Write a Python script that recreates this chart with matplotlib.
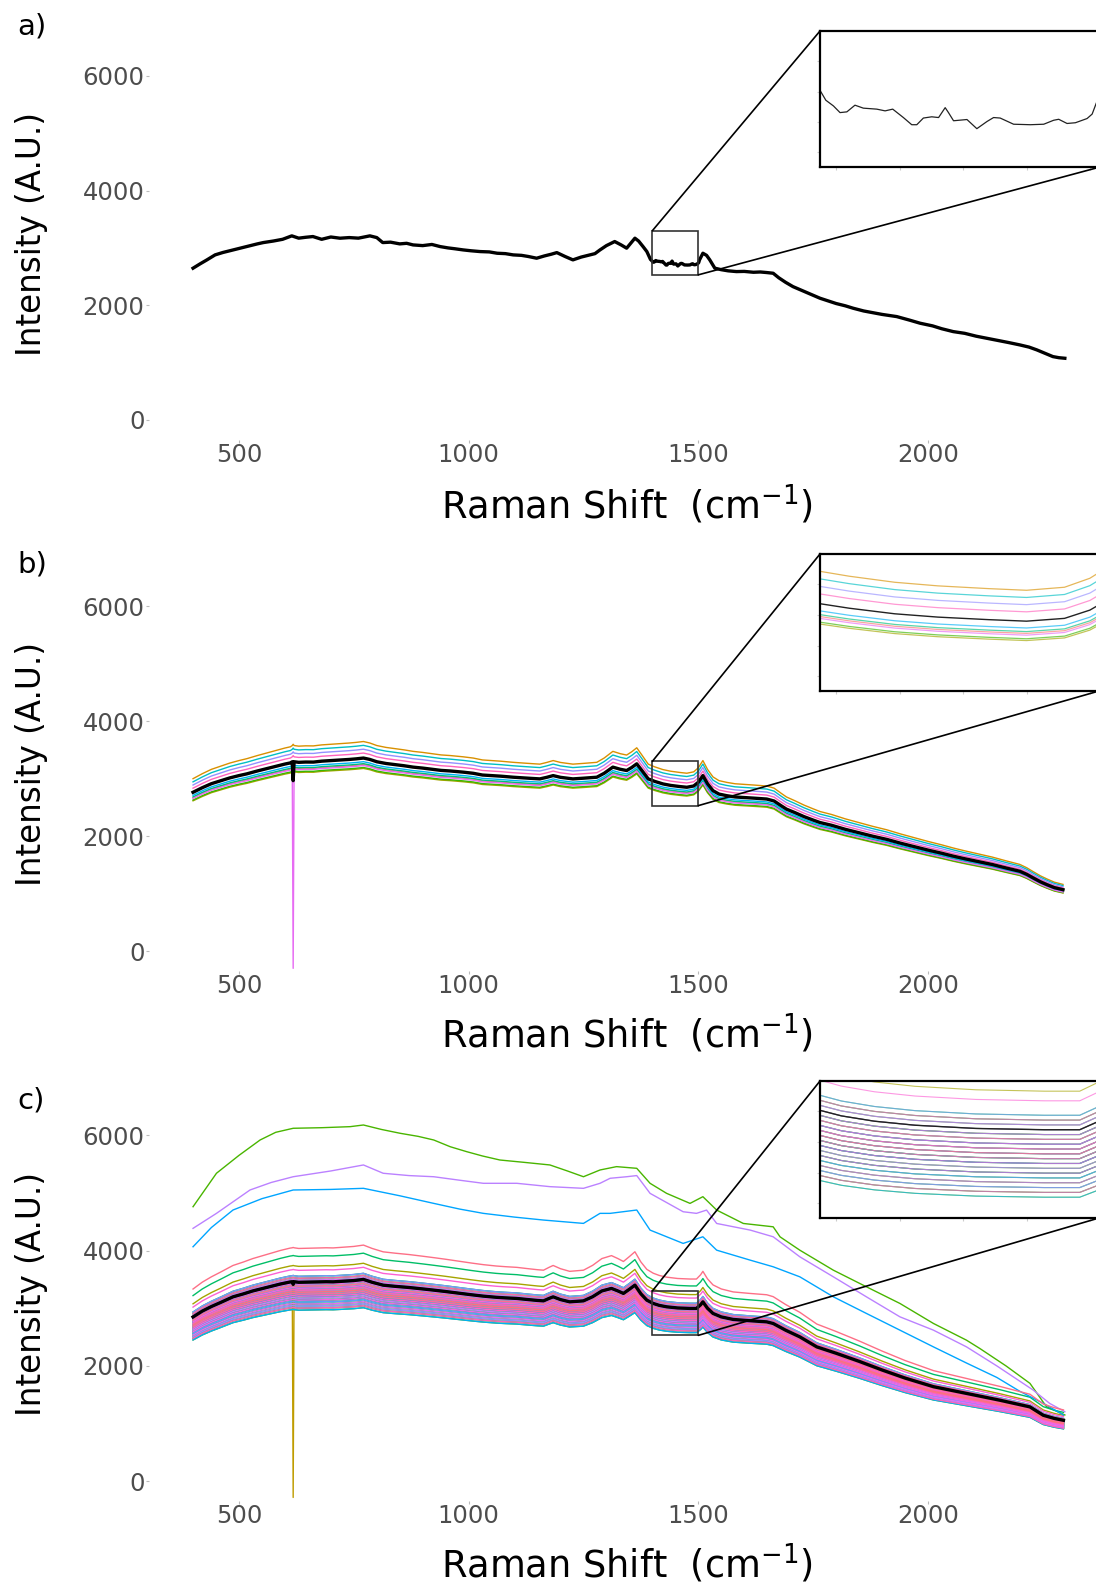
import numpy as np
import matplotlib

matplotlib.use("Agg")
import matplotlib.pyplot as plt
from matplotlib.patches import Rectangle, ConnectionPatch

# ---------------------- data ----------------------

# a) single spectrum
a_x = [400, 415, 430, 448, 465, 480, 502, 520, 540, 553, 575, 595, 615, 630, 645,
       661, 680, 700, 720, 740, 760, 785, 800, 813, 830, 850, 865, 879, 900, 920,
       938, 955, 970, 988, 1005, 1025, 1045, 1062, 1080, 1097, 1115, 1130, 1148,
       1165, 1180, 1192, 1210, 1227, 1245, 1264, 1275, 1286, 1300, 1318, 1332,
       1344, 1355, 1362, 1370, 1380, 1388,
       1395.8, 1398.8, 1401.4, 1404.1, 1407.3, 1410.6, 1415.9, 1419.2, 1422.2,
       1426.4, 1429.7, 1431.7, 1434.3, 1437.6, 1440.3, 1442.9, 1444.2, 1446.2,
       1451.5, 1455.4, 1459.4, 1462.0, 1464.6, 1469.9, 1476.5, 1481.8, 1485.7,
       1487.7, 1491.0, 1494.3, 1498.9, 1500.9, 1502.6,
       1510, 1518, 1525, 1536, 1550, 1565, 1583, 1600, 1620, 1635, 1649, 1663,
       1675, 1690, 1706, 1725, 1745, 1765, 1785, 1800, 1820, 1837, 1860, 1880,
       1900, 1932, 1960, 1983, 2010, 2030, 2055, 2080, 2105, 2128, 2150, 2175,
       2200, 2220, 2237, 2255, 2272, 2285, 2298]
a_y = [2646, 2720, 2790, 2878, 2920, 2950, 2995, 3030, 3070, 3093, 3120, 3150, 3210,
       3170, 3185, 3198, 3150, 3190, 3169, 3180, 3170, 3210, 3180, 3093, 3100, 3070,
       3080, 3052, 3040, 3060, 3023, 3000, 2985, 2965, 2950, 2936, 2930, 2907, 2900,
       2878, 2870, 2850, 2820, 2860, 2890, 2918, 2850, 2791, 2840, 2878, 2900, 2965,
       3040, 3111, 3052, 2995, 3100, 3169, 3120, 3020, 2936,
       2800, 2777, 2750, 2753, 2780, 2768, 2764, 2757, 2764, 2730, 2701, 2701, 2728,
       2733, 2730, 2770, 2750, 2717, 2722, 2685, 2714, 2730, 2728, 2703, 2701, 2703,
       2719, 2723, 2706, 2709, 2726, 2744, 2790,
       2907, 2870, 2791, 2646, 2620, 2600, 2587, 2590, 2575, 2580, 2570, 2558, 2480,
       2400, 2325, 2260, 2190, 2122, 2070, 2030, 1990, 1948, 1900, 1870, 1840, 1802,
       1740, 1686, 1640, 1590, 1540, 1510, 1460, 1424, 1390, 1350, 1308, 1270, 1221,
       1160, 1104, 1085, 1075]

# b) 10 spectra: common shape + level of each spectrum relative to it
b_x = [400, 420, 440, 460, 480, 500, 517, 540, 560, 580, 600, 612, 616, 618, 620,
       630, 645, 662, 680, 700, 720, 740, 755, 771, 785, 800, 820, 840, 860, 879,
       900, 920, 940, 960, 988, 1010, 1030, 1050, 1070, 1097, 1120, 1140, 1155,
       1170, 1184, 1200, 1227, 1250, 1279, 1295, 1314, 1330, 1344, 1355, 1366,
       1378, 1391, 1405, 1423, 1440, 1460, 1475, 1490, 1500, 1510, 1520, 1532,
       1545, 1562, 1580, 1600, 1620, 1649, 1665, 1680, 1692, 1710, 1730, 1750,
       1765, 1790, 1820, 1850, 1880, 1910, 1940, 1970, 2000, 2030, 2055, 2080,
       2110, 2140, 2170, 2200, 2215, 2229, 2245, 2259, 2275, 2294]
b_base = [2751, 2830, 2900, 2950, 3000, 3040, 3070, 3120, 3160, 3200, 3240, 3260,
          3280, 3300, 3280, 3270, 3275, 3274, 3290, 3300, 3310, 3320, 3330, 3344,
          3320, 3280, 3250, 3230, 3210, 3187, 3170, 3150, 3130, 3120, 3100, 3080,
          3050, 3040, 3030, 3012, 3000, 2990, 2983, 3010, 3040, 3010, 2983, 2995,
          3012, 3080, 3187, 3150, 3128, 3180, 3244, 3120, 2983, 2940, 2896, 2870,
          2850, 2838, 2860, 2925, 3040, 2900, 2779, 2720, 2692, 2670, 2660, 2650,
          2634, 2600, 2520, 2459, 2400, 2330, 2270, 2227, 2180, 2110, 2050, 1990,
          1936, 1870, 1810, 1750, 1695, 1645, 1600, 1550, 1500, 1440, 1383, 1330,
          1268, 1200, 1151, 1100, 1064]
b_levels = [0.97, 1.09, 0.95, 0.955, 0.975, 1.07, 0.985, 1.05, 0.965, 1.03]
b_spike_idx = 8       # spectrum with the dead pixel
b_spike_val = -300
spike_x = 618

# c) 72 spectra: common shape, levels, three spectra read separately
c_x = [400, 420, 440, 460, 487, 510, 530, 560, 590, 611, 616, 618, 620, 630, 660,
       690, 705, 730, 750, 771, 790, 814, 840, 870, 900, 924, 950, 980, 1005, 1032,
       1060, 1080, 1105, 1130, 1150, 1163, 1175, 1184, 1200, 1220, 1250, 1270,
       1290, 1311, 1325, 1337, 1350, 1362, 1375, 1388, 1402, 1415, 1431, 1455,
       1482, 1496, 1505, 1510, 1520, 1532, 1550, 1576, 1610, 1649, 1663, 1690,
       1721, 1758, 1800, 1850, 1900, 1950, 2012, 2080, 2157, 2222, 2251, 2275, 2295]
c_base = [2849, 2950, 3030, 3100, 3198, 3250, 3300, 3360, 3420, 3455, 3460, 3465,
          3460, 3450, 3455, 3460, 3458, 3470, 3480, 3500, 3450, 3400, 3380, 3360,
          3335, 3314, 3290, 3260, 3235, 3210, 3190, 3180, 3170, 3150, 3135, 3128,
          3170, 3198, 3150, 3111, 3128, 3200, 3300, 3344, 3300, 3257, 3330, 3401,
          3250, 3140, 3083, 3050, 3025, 3005, 2997, 2997, 3060, 3111, 3000, 2910,
          2850, 2806, 2785, 2764, 2736, 2620, 2504, 2330, 2220, 2080, 1930, 1790,
          1640, 1530, 1405, 1290, 1145, 1090, 1058]
c_levels = [0.93, 0.97, 0.89, 1.01, 0.95, 0.91, 0.99, 0.87, 0.96, 1.02,
            0.92, 0.98, 0.94, 0.88, 1.08, 0.97, 0.90, 1.00, 0.93, 0.86,
            0.96, np.nan, 0.99, 0.91, 0.94, 1.03, 0.89, 1.13, 0.95, 0.92,
            0.98, 0.87, 1.01, 0.94, 0.90, 0.97, 0.93, 1.02, 0.88, 0.96,
            0.99, 0.91, 0.95, 0.86, 1.00, 0.93, np.nan, 0.97, 0.90, 1.03,
            0.94, 0.88, 0.98, np.nan, 0.92, 0.96, 1.01, 0.89, 0.95, 0.99,
            0.91, 0.97, 1.06, 0.93, 1.00, 0.87, 0.96, 1.02, 0.94, 0.98,
            1.17, 0.95]
c_spike_idx = 11
c_spike_val = -280

green_x = [400, 451, 500, 546, 580, 618, 680, 742, 771, 810, 851, 890, 924, 960, 996,
           1030, 1068, 1120, 1177, 1215, 1250, 1286, 1322, 1366, 1395, 1431, 1482,
           1510, 1540, 1598, 1663, 1678, 1721, 1794, 1866, 1939, 2012, 2084, 2113,
           2170, 2222, 2258, 2298]
green_y = [4760, 5340, 5650, 5917, 6050, 6120, 6130, 6148, 6177, 6100, 6033, 5980,
           5917, 5800, 5714, 5640, 5570, 5530, 5484, 5380, 5280, 5397, 5455, 5426,
           5166, 4992, 4818, 4934, 4702, 4470, 4412, 4238, 4007, 3660, 3372, 3083,
           2736, 2446, 2302, 2000, 1698, 1293, 1150]
purple_x = [400, 451, 524, 570, 618, 700, 771, 814, 870, 924, 980, 1032, 1105, 1177,
            1250, 1286, 1308, 1344, 1366, 1395, 1467, 1496, 1518, 1540, 1613, 1663,
            1721, 1794, 1866, 1939, 2012, 2084, 2150, 2229, 2265, 2298]
purple_y = [4385, 4645, 5050, 5180, 5280, 5380, 5484, 5340, 5300, 5280, 5220, 5166,
            5166, 5108, 5079, 5166, 5253, 5280, 5300, 4992, 4673, 4645, 4702, 4470,
            4355, 4239, 3892, 3545, 3198, 2851, 2620, 2330, 2000, 1582, 1350, 1206]
blue_x = [400, 440, 487, 550, 618, 700, 771, 850, 924, 980, 1032, 1100, 1163, 1250,
          1286, 1308, 1366, 1395, 1467, 1510, 1540, 1613, 1663, 1721, 1794, 1866,
          1939, 2012, 2084, 2150, 2200, 2251, 2295]
blue_y = [4066, 4400, 4703, 4900, 5050, 5060, 5079, 4950, 4818, 4720, 4645, 4580,
          4529, 4471, 4645, 4645, 4703, 4355, 4124, 4239, 4007, 3834, 3719, 3545,
          3198, 2910, 2620, 2330, 2050, 1800, 1560, 1352, 1150]
c_separate = {21: (green_x, green_y), 46: (blue_x, blue_y), 53: (purple_x, purple_y)}

y_ticks = [0, 2000, 4000, 6000]
x_ticks = [500, 1000, 1500, 2000]
zoom_x = (1400, 1500)
zoom_y = (2530, 3300)

# ---------------------- layout (pixels of the 1096x1586 canvas) ----------------------

W, H = 1096, 1586
X_LIM = (305, 2395)
Y_LIM = (-350, 6850)
AX_LEFT, AX_RIGHT = 149.4, 1109.4
INS_LEFT, INS_RIGHT = 820, 1100
INS_XLIM = (1393.5, 1504)

# per panel: pixel of y=0, pixel of y=6000, inset top/bottom, inset ylim, letter y, xlabel baseline
PANELS = {
    "a": dict(y0=419.9, y6=75.9, itop=31, ibot=167, iylim=(2530, 3080), ly=26, xl=518),
    "b": dict(y0=951.1, y6=606.1, itop=554, ibot=690.7, iylim=(2300, 3380), ly=564, xl=1047),
    "c": dict(y0=1481.3, y6=1135.2, itop=1081, ibot=1217.7, iylim=(2450, 3300), ly=1100, xl=1577),
}

TICK_GREY = "#4D4D4D"
plt.rcParams["font.family"] = ["DejaVu Sans"]


def hue_pal(n, c=100.0, l=65.0):
    """ggplot2-style evenly spaced HCL hues."""
    hues = np.deg2rad(np.linspace(15, 375, n + 1)[:-1])
    xn, yn, zn = 95.047, 100.0, 108.883
    un = 4 * xn / (xn + 15 * yn + 3 * zn)
    vn = 9 * yn / (xn + 15 * yn + 3 * zn)
    Y = yn * ((l + 16) / 116) ** 3
    cols = []
    for h in hues:
        up = c * np.cos(h) / (13 * l) + un
        vp = c * np.sin(h) / (13 * l) + vn
        X = 9 * Y * up / (4 * vp)
        Z = -X / 3 - 5 * Y + 3 * Y / vp
        rgb = np.array([
            3.240479 * X - 1.537150 * Y - 0.498535 * Z,
            -0.969256 * X + 1.875992 * Y + 0.041556 * Z,
            0.055648 * X - 0.204043 * Y + 1.057311 * Z,
        ]) / 100
        rgb = np.where(rgb <= 0.0031308, 12.92 * rgb, 1.055 * np.abs(rgb) ** (1 / 2.4) - 0.055)
        cols.append(tuple(np.clip(rgb, 0, 1)))
    return cols


fig = plt.figure(figsize=(W / 100, H / 100), dpi=100)


def px_axes(left, top, right, bottom):
    return fig.add_axes([left / W, 1 - bottom / H, (right - left) / W, (bottom - top) / H])


def make_panel(key):
    p = PANELS[key]
    s = (p["y0"] - p["y6"]) / 6000
    ax = px_axes(AX_LEFT, p["y0"] - Y_LIM[1] * s, AX_RIGHT, p["y0"] - Y_LIM[0] * s)
    ax.set_xlim(*X_LIM)
    ax.set_ylim(*Y_LIM)
    ax.set_xticks(x_ticks)
    ax.set_yticks(y_ticks)
    for sp in ax.spines.values():
        sp.set_visible(False)
    ax.tick_params(axis="both", length=2.5, width=0.8, color="#BBBBBB",
                   labelsize=17.5, labelcolor=TICK_GREY, pad=1)
    ax.tick_params(axis="x", pad=-0.5)
    ax.set_ylabel("Intensity (A.U.)", fontsize=23.5, color="black")
    ax.yaxis.label.set_verticalalignment("center")
    ax.yaxis.set_label_coords((32 - AX_LEFT) / (AX_RIGHT - AX_LEFT), 0.5)

    ins = px_axes(INS_LEFT, p["itop"], INS_RIGHT, p["ibot"])
    ins.set_xlim(*INS_XLIM)
    ins.set_ylim(*p["iylim"])
    lo, hi = p["iylim"]
    ins.set_yticks([lo + f * (hi - lo) for f in (0.11, 0.33, 0.555, 0.78)])
    ins.set_xticks([1400, 1425, 1450, 1475, 1500])
    ins.tick_params(axis="both", length=2, width=0.8, color="#CCCCCC",
                    labelleft=False, labelbottom=False)
    for sp in ins.spines.values():
        sp.set_linewidth(1.6)
        sp.set_color("black")

    ax.add_patch(Rectangle((zoom_x[0], zoom_y[0]), zoom_x[1] - zoom_x[0],
                           zoom_y[1] - zoom_y[0], fill=False, ec="#333333",
                           lw=1.2, zorder=6))
    for xy_a, xy_b in (((zoom_x[0], zoom_y[1]), (0, 1)), ((zoom_x[1], zoom_y[0]), (1, 0))):
        con = ConnectionPatch(xyA=xy_a, coordsA=ax.transData, xyB=xy_b,
                              coordsB=ins.transAxes, color="black", lw=1.2)
        fig.add_artist(con)

    fig.text(17 / W, 1 - p["ly"] / H, f"{key})", fontsize=21, ha="left", va="center")
    fig.text(627 / W, 1 - p["xl"] / H, r"Raman Shift  (cm$^{-1}$)", fontsize=26.5,
             ha="center", va="baseline")
    return ax, ins


# ---------------------- a ----------------------
ax, ins = make_panel("a")
ax.plot(a_x, a_y, color="black", lw=2.4, zorder=4)
ins.plot(a_x, a_y, color="#222222", lw=0.9)

# ---------------------- b ----------------------
ax, ins = make_panel("b")
b_cols = hue_pal(len(b_levels))
b_arr = np.array(b_base, dtype=float)
b_specs = []
for i, lev in enumerate(b_levels):
    spec = b_arr * lev
    if i == b_spike_idx:
        spec[b_x.index(spike_x)] = b_spike_val
    b_specs.append(spec)
    ax.plot(b_x, spec, color=b_cols[i], lw=1.0, zorder=2)
    ins.plot(b_x, spec, color=b_cols[i], lw=0.9, alpha=0.65)
b_mean = np.mean(b_specs, axis=0)
ax.plot(b_x, b_mean, color="black", lw=2.4, zorder=4)
ins.plot(b_x, b_mean, color="#222222", lw=1.0)

# ---------------------- c ----------------------
ax, ins = make_panel("c")
c_cols = hue_pal(len(c_levels))
c_arr = np.array(c_base, dtype=float)
i_sp = c_x.index(spike_x)
for i, lev in enumerate(c_levels):
    if i in c_separate:
        xs, ys = c_separate[i]
    else:
        xs, ys = c_x, c_arr * lev
        if i == c_spike_idx:
            ys = ys.copy()
            ys[i_sp] = c_spike_val
    ax.plot(xs, ys, color=c_cols[i], lw=1.0, zorder=2)
    ins.plot(xs, ys, color=c_cols[i], lw=0.8, alpha=0.65)
c_mean = c_arr.copy()
c_mean[i_sp] -= (c_arr[i_sp] * c_levels[c_spike_idx] - c_spike_val) / len(c_levels)
ax.plot(c_x, c_mean, color="black", lw=2.4, zorder=4)
ins.plot(c_x, c_mean, color="#222222", lw=1.0)

fig.savefig("out.png", dpi=100)
